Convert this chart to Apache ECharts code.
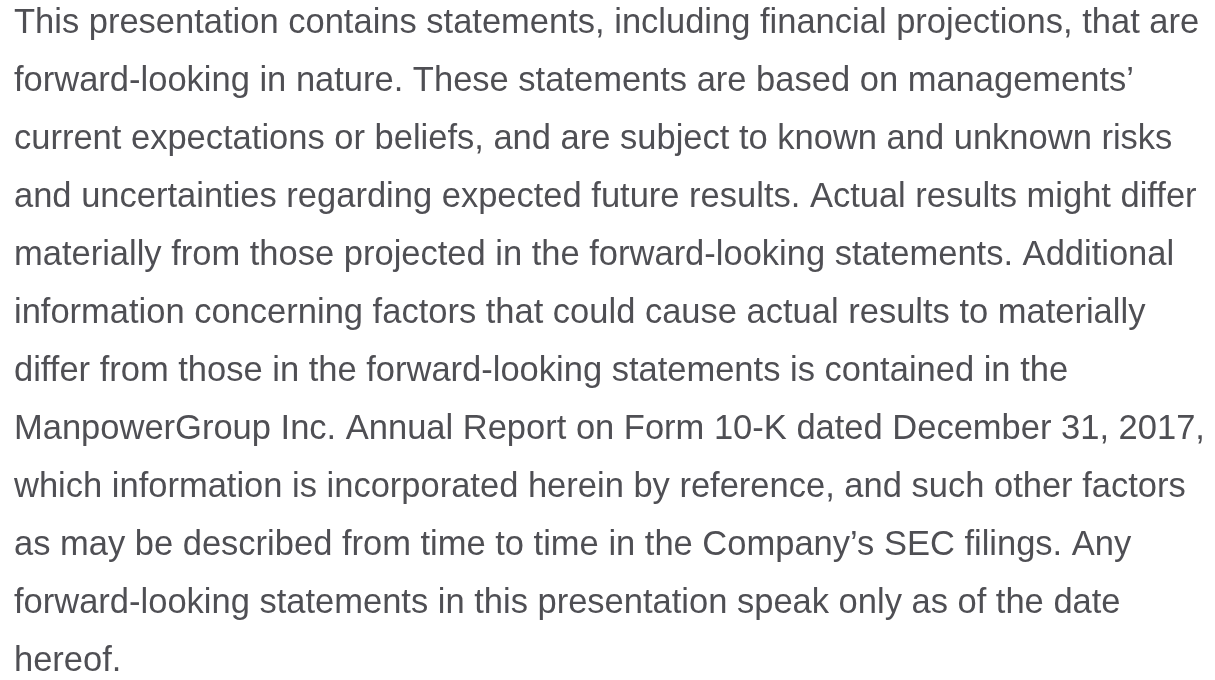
<!DOCTYPE html>
<html>
<head>
<meta charset="utf-8">
<script src="https://cdn.jsdelivr.net/npm/echarts@6/dist/echarts.min.js"></script>
<style>
html,body{margin:0;padding:0;background:#fff;}
#main{width:1215px;height:680px;}
</style>
</head>
<body>
<div id="main"></div>
<script>
const lines = [
  "This presentation contains statements, including financial projections, that are",
  "forward-looking in nature. These statements are based on managements\u2019",
  "current expectations or beliefs, and are subject to known and unknown risks",
  "and uncertainties regarding expected future results. Actual results might differ",
  "materially from those projected in the forward-looking statements. Additional",
  "information concerning factors that could cause actual results to materially",
  "differ from those in the forward-looking statements is contained in the",
  "ManpowerGroup Inc. Annual Report on Form 10-K dated December 31, 2017,",
  "which information is incorporated herein by reference, and such other factors",
  "as may be described from time to time in the Company\u2019s SEC filings. Any",
  "forward-looking statements in this presentation speak only as of the date",
  "hereof."
];

const chart = echarts.init(document.getElementById('main'), null, {renderer: 'canvas'});
const textColor = '#4f4f54';
const left = 14, firstBottom = 41, lineGap = 58, fontSize = 34.5;

chart.setOption({
  backgroundColor: '#ffffff',
  graphic: lines.map((t, i) => ({
    type: 'text',
    x: left,
    y: firstBottom + i * lineGap,
    style: {
      text: t,
      fill: textColor,
      font: fontSize + 'px "Liberation Sans", Arial, sans-serif',
      textVerticalAlign: 'bottom'
    }
  }))
});
</script>
</body>
</html>
